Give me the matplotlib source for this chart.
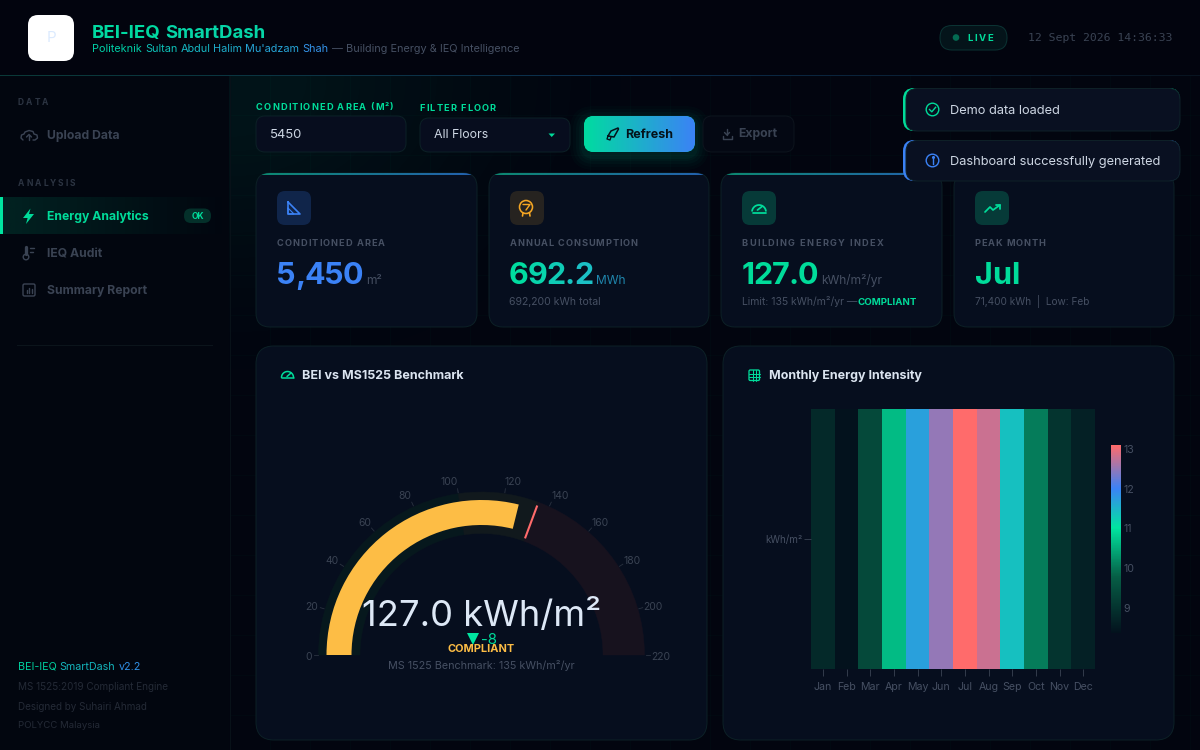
#!/usr/bin/env python
# BEI-IEQ dashboard screen: gauge, monthly heatmap and the KPI cards around them.

import numpy as np
import matplotlib
matplotlib.use("Agg")
import matplotlib.pyplot as plt
from matplotlib import colors as mcolors
from matplotlib.font_manager import FontProperties
from matplotlib.patches import FancyBboxPatch, Wedge, Polygon, Circle, Rectangle

# ---- data
months = ["Jan", "Feb", "Mar", "Apr", "May", "Jun", "Jul", "Aug", "Sep", "Oct", "Nov", "Dec"]
monthly_intensity = [8.8, 8.37, 9.4, 10.64, 11.7, 12.5, 13.1, 12.8, 11.4, 10.06, 9.0, 8.63]
colorbar_ticks = [9, 10, 11, 12, 13]

bei_value = 127.0
bei_benchmark = 135
gauge_max = 220
gauge_ticks = list(range(0, 221, 20))
gauge_steps = [(0, 100, "#06181d"), (100, 135, "#11191d"), (135, 220, "#17121e")]

kpi_labels = ["CONDITIONED AREA", "ANNUAL CONSUMPTION", "BUILDING ENERGY INDEX", "PEAK MONTH"]
kpi_values = ["5,450", "692.2", "127.0", "Jul"]
kpi_units = ["m²", "MWh", "kWh/m²/yr", ""]

# ---- palette
BG = "#02050f"
CARD = "#060e1e"
EDGE = "#0c2026"
GREEN = "#00dc9a"
BLUE = "#3b82f6"
TEAL = "#22b8cf"
AMBER = "#fdbd45"
RED = "#ff6b6b"
MUTED = "#465063"
DIM = "#3a4353"
FAINT = "#242a36"
LIGHT = "#cdd6e3"
FONT = "Inter"

fig = plt.figure(figsize=(12, 7.5), dpi=100, facecolor=BG)
ax = fig.add_axes([0, 0, 1, 1])
ax.set_xlim(0, 1200)
ax.set_ylim(750, 0)
ax.set_autoscale_on(False)
ax.axis("off")
renderer = fig.canvas.get_renderer()


def pt(size):
    return size * 0.72


def label(x, y, s, size, color, weight="normal", ha="left", va="center", family=FONT, z=20):
    if va == "center":
        y = y + 1
    return ax.text(x, y, s, fontsize=pt(size), color=color, fontweight=weight, ha=ha, va=va,
                   family=family, zorder=z)


def text_w(s, size, weight, family=FONT):
    fp = FontProperties(family=family, size=pt(size), weight=weight)
    w = renderer.get_text_width_height_descent(s + ".", fp, False)[0]
    return w - renderer.get_text_width_height_descent(".", fp, False)[0]


def spaced(x, y, s, size, color, track=0.0, weight="normal", color_end=None, z=20):
    # letter spaced or gradient text: per character when tracked, per word otherwise
    c0 = np.array(mcolors.to_rgb(color))
    c1 = np.array(mcolors.to_rgb(color_end or color))
    total = text_w(s, size, weight) + track * len(s)
    if track == 0.0:
        chunks, pos = [], 0
        for word in s.split(" "):
            chunks.append((pos, word))
            pos += len(word) + 1
    else:
        chunks = [(i, ch) for i, ch in enumerate(s)]
    for i, part in chunks:
        cx = x + text_w(s[:i], size, weight) + track * i
        f = (cx - x) / total
        ax.text(cx, y, part, fontsize=pt(size), color=tuple(c0 + (c1 - c0) * f), fontweight=weight,
                ha="left", va="baseline", family=FONT, zorder=z)
    return x + total


def box(x0, y0, x1, y1, r, fc, ec="none", lw=1.0, z=5, alpha=None):
    p = FancyBboxPatch((x0, y0), x1 - x0, y1 - y0, boxstyle=f"round,pad=0,rounding_size={r}",
                       fc=fc, ec=ec, lw=lw * 0.72, zorder=z, alpha=alpha)
    ax.add_patch(p)
    return p


def hgrad(x0, y0, x1, y1, c0, c1, a0=1.0, a1=1.0, clip=None, z=6):
    n = 256
    t = np.linspace(0, 1, n)[None, :, None]
    rgb0 = np.array(mcolors.to_rgb(c0))[None, None, :]
    rgb1 = np.array(mcolors.to_rgb(c1))[None, None, :]
    rgb = rgb0 + (rgb1 - rgb0) * t
    alpha = a0 + (a1 - a0) * t
    im = ax.imshow(np.concatenate([rgb, alpha], axis=2), extent=(x0, x1, y1, y0), aspect="auto",
                   zorder=z, interpolation="bilinear")
    if clip is not None:
        im.set_clip_path(clip)
    return im


def stroke(xs, ys, color, lw=1.3, z=21):
    ax.plot(xs, ys, color=color, lw=lw * 0.72 * 1.1, solid_capstyle="round", solid_joinstyle="round", zorder=z)


def ring(x, y, r, color, lw=1.4, z=21):
    ax.add_patch(Circle((x, y), r, fc="none", ec=color, lw=lw * 0.72, zorder=z))


# ---- page background: a faint glow and grid in the main area
yy, xx = np.mgrid[0:750, 0:1200]
glow = np.exp(-(((xx - 230) / 230.0) ** 2 + ((yy - 80) / 170.0) ** 2))
glow_img = np.zeros((750, 1200, 4))
glow_img[..., :3] = mcolors.to_rgb("#00e5a0")
glow_img[..., 3] = 0.07 * glow
ax.imshow(glow_img, extent=(0, 1200, 750, 0), aspect="auto", zorder=1)
for gx in range(230, 1200, 40):
    ax.plot([gx, gx], [75, 750], color="#00e5a0", alpha=0.02, lw=0.7, zorder=1)
for gy in range(75, 750, 40):
    ax.plot([230, 1200], [gy, gy], color="#00e5a0", alpha=0.02, lw=0.7, zorder=1)

# sidebar and header
ax.add_patch(Rectangle((0, 75), 229, 675, fc="#02060f", ec="none", zorder=2))
ax.plot([229.5, 229.5], [75, 750], color="#081118", lw=0.8, zorder=3)
ax.add_patch(Rectangle((0, 0), 1200, 75, fc="#02040e", ec="none", zorder=2))
hgrad(0, 74.6, 600, 75.6, "#0a3a38", "#0c2f4f", z=3)
hgrad(600, 74.6, 1200, 75.6, "#0c2f4f", "#081420", z=3)

# ---- header
box(28, 15, 74, 61, 10, "#ffffff", z=6)
label(51, 36.5, "P", 15, "#dbeafe", ha="center")
spaced(92, 38, "BEI-IEQ SmartDash", 18.6, "#00d9a0", weight="bold", color_end="#0fcfb0")
xe = spaced(92, 52, "Politeknik Sultan Abdul Halim Mu'adzam Shah", 10.9, "#00cfa6", color_end="#3b8cf0")
label(xe + 3, 52, "— Building Energy & IEQ Intelligence", 10.9, MUTED, va="baseline")
box(940, 25.5, 1007, 50, 12, "#04141a", ec="#0b3333", z=6)
ax.add_patch(Circle((956, 37.5), 3.3, fc="#046b52", ec="none", zorder=7))
spaced(967.4, 41, "LIVE", 9.5, GREEN, track=1.75, weight="bold")
label(1172, 37, "12 Sept 2026 14:36:33", 11.5, DIM, ha="right", family="DejaVu Sans Mono")

# ---- sidebar
spaced(18, 105, "DATA", 8.5, "#2c3442", track=2, weight="bold")
spaced(18, 186, "ANALYSIS", 8.5, "#2c3442", track=2, weight="bold")
label(47, 134.5, "Upload Data", 12.2, DIM, weight="bold")
hgrad(0, 197, 229, 234, "#00e5a0", "#00e5a0", a0=0.13, a1=0.0, z=3)
ax.add_patch(Rectangle((0, 197), 2.5, 37, fc="#00e5a0", ec="none", zorder=4))
label(47, 215.5, "Energy Analytics", 12.2, GREEN, weight="bold")
box(184, 208.5, 211, 223, 7, "#04302a", z=6)
label(197.5, 215.5, "OK", 8.5, GREEN, weight="bold", ha="center")
label(47, 253, "IEQ Audit", 12.2, DIM, weight="bold")
label(47, 290, "Summary Report", 12.2, DIM, weight="bold")
ax.plot([17, 212], [344.5, 344.5], color="#0b141b", lw=0.8, zorder=4)
spaced(18, 670, "BEI-IEQ SmartDash v2.2", 10.7, "#00cf9e", color_end="#3b82f6")
label(18, 686.5, "MS 1525:2019 Compliant Engine", 9.9, FAINT)
label(18, 705.5, "Designed by Suhairi Ahmad", 9.9, FAINT)
label(18, 724.5, "POLYCC Malaysia", 9.6, FAINT)

# sidebar icons
stroke([23, 21, 21.5, 24, 25, 29, 33, 34, 37, 37.5, 35, 33], [140, 138, 135, 134, 132, 130.5, 131.5, 134, 135, 138, 140, 140], DIM)
stroke([29, 29], [140, 134.5], DIM)
stroke([26.5, 29, 31.5], [137, 134.5, 137], DIM)
ax.add_patch(Polygon([(30.5, 208.5), (23, 218), (27.6, 218), (26, 224), (34, 214), (29, 214)], closed=True, fc=GREEN, ec="none", zorder=21))
ring(26, 257, 2.8, DIM)
stroke([26, 26], [254, 247], DIM, lw=3)
stroke([30, 34], [248, 248], DIM)
stroke([30, 33], [252, 252], DIM)
box(23, 284, 35, 296, 1.5, "none", ec=DIM, lw=1.4, z=21)
stroke([26.5, 26.5], [293, 290], DIM)
stroke([29, 29], [293, 287.5], DIM)
stroke([31.5, 31.5], [293, 289], DIM)

# ---- controls
spaced(256, 109.5, "CONDITIONED AREA (M²)", 9.2, GREEN, track=1.15, weight="bold")
spaced(419.6, 111, "FILTER FLOOR", 9.2, GREEN, track=1.1, weight="bold")
box(256, 116, 406, 152, 9, "#070d1e", ec=EDGE, z=6)
label(270, 133.5, "5450", 13, LIGHT)
box(420, 118, 570, 152, 9, "#070d1e", ec=EDGE, z=6)
label(434, 134.5, "All Floors", 12.4, LIGHT)
ax.add_patch(Polygon([(548.5, 133.5), (555, 133.5), (551.7, 137)], closed=True, fc=GREEN, ec="none", zorder=21))

for grow, a in zip([14, 11, 8, 5, 3], [0.02, 0.025, 0.03, 0.035, 0.04]):
    box(584 - grow, 116 - grow + 4, 695 + grow, 152 + grow + 4, 10 + grow, "#00d9a0", z=5, alpha=a)
btn = box(584, 116, 695, 152, 10, "#00d9a0", z=6)
hgrad(584, 116, 695, 152, "#00dca0", "#3b82f6", clip=btn, z=7)
label(625, 133.5, "Refresh", 12.5, "#04121a", weight="bold")
stroke([608, 611, 618, 618.5, 614, 608], [136, 131, 128, 129, 137, 136], "#04121a", lw=1.4)
stroke([608, 607, 610, 611], [136, 139, 140, 137], "#04121a", lw=1.2)
box(703, 116, 794, 152, 9, "#040813", ec="#0d141d", z=6)
label(738, 133, "Export", 12.2, DIM, weight="bold")
stroke([727, 727], [129, 135], DIM)
stroke([724.5, 727, 729.5], [132.5, 135, 132.5], DIM)
stroke([722.5, 722.5, 731.5, 731.5], [136, 138.5, 138.5, 136], DIM)

# ---- KPI cards
card_x = [(256, 477), (489, 709), (721, 942), (954, 1174)]
icon_fc = ["#10254a", "#262320", "#063a38", "#063a38"]
label_track = [1.05, 0.9, 1.35, 0.85]
value_track = [-0.9, -0.9, -0.9, -0.1]
for i, (x0, x1) in enumerate(card_x):
    cp = box(x0, 173, x1, 327, 14, CARD, ec=EDGE, z=6)
    hgrad(x0, 173, x1, 175, "#0c8a70", "#2460b0", clip=cp, z=7)
    box(x0 + 21, 191, x0 + 55, 225, 8, icon_fc[i], z=8)
    spaced(x0 + 20.5, 246, kpi_labels[i], 9.2, MUTED, track=label_track[i], weight="bold")
    if i == 1:
        xe = spaced(x0 + 20, 284, kpi_values[i], 30.5, "#00dca0", track=value_track[i], weight="bold", color_end=TEAL)
    else:
        xe = spaced(x0 + 20.5, 284, kpi_values[i], 30.5, BLUE if i == 0 else GREEN, track=value_track[i], weight="bold")
    if kpi_units[i]:
        label(xe + 4, 284, kpi_units[i], 12, "#1f86ad" if i == 1 else MUTED, va="baseline")

label(509, 305, "692,200 kWh total", 10.5, MUTED, va="baseline")
label(742, 305, "Limit: 135 kWh/m²/yr — ", 10.4, MUTED, va="baseline")
label(858, 305, "COMPLIANT", 9.7, GREEN, weight="bold", va="baseline")
label(975, 305, "71,400 kWh  |  Low: Feb", 10.1, MUTED, va="baseline")

# card icons
stroke([288, 288, 300, 288], [202, 214, 214, 202], BLUE, lw=1.5)
stroke([288, 288, 294, 288], [208, 214, 214, 208], BLUE, lw=1.0)
ring(526, 207, 6.5, "#f5a623", lw=1.6)
stroke([523, 530, 526], [204.5, 204.5, 210], "#f5a623", lw=1.3)
stroke([523, 522.5], [213, 216], "#f5a623", lw=1.5)
stroke([529.5, 530], [213, 216], "#f5a623", lw=1.5)
th = np.linspace(np.pi * 1.05, np.pi * 1.95, 20)
stroke(759 + 7 * np.cos(th), 212 + 7 * np.sin(th), GREEN, lw=1.6)
stroke([752.5, 765.5], [212.5, 212.5], GREEN, lw=1.6)
stroke([757.5, 762], [210, 206.5], GREEN, lw=1.6)
stroke([985, 990, 993, 1000], [212, 207, 210, 205], GREEN, lw=1.6)
stroke([996, 1000, 1000], [205, 205, 209], GREEN, lw=1.6)

# ---- chart cards
box(256, 346, 707, 740, 18, CARD, ec=EDGE, z=6)
box(723, 346, 1174, 740, 18, CARD, ec=EDGE, z=6)
label(302, 375, "BEI vs MS1525 Benchmark", 12.5, "#dbe4f0", weight="bold")
label(769, 374.5, "Monthly Energy Intensity", 12.5, "#dbe4f0", weight="bold")
th = np.linspace(np.pi * 1.0, np.pi * 2.0, 20)
stroke(287.5 + 6 * np.cos(th), 377.5 + 6 * np.sin(th), GREEN, lw=1.4)
stroke([281.5, 293.5], [378, 378], GREEN, lw=1.4)
stroke([287, 291], [376.5, 373], GREEN, lw=1.4)
box(749, 370, 759.5, 380.5, 1.3, "none", ec=GREEN, lw=1.3, z=21)
stroke([749, 759.5], [373.6, 373.6], GREEN, lw=0.9)
stroke([749, 759.5], [377, 377], GREEN, lw=0.9)
stroke([752.5, 752.5], [370, 380.5], GREEN, lw=0.9)
stroke([756, 756], [370, 380.5], GREEN, lw=0.9)

# ---- toasts, above the cards
for y0, y1, col, msg in [(88, 131, GREEN, "Demo data loaded"), (140, 181, BLUE, "Dashboard successfully generated")]:
    box(903, y0, 1180, y1, 11, col, z=30)
    box(906, y0 + 0.5, 1180, y1, 11, "#091021", ec="#0e2027", z=31)
    ax.text(950, (y0 + y1) / 2 + 1, msg, fontsize=pt(12.8), color=LIGHT, ha="left", va="center",
            family=FONT, zorder=32)
    ax.add_patch(Circle((932.5, (y0 + y1) / 2), 6.3, fc="none", ec=col, lw=1.0, zorder=32))
yc = 109.5
ax.plot([929.5, 931.8, 935.6], [yc, yc + 2.3, yc - 2.2], color=GREEN, lw=1.0, zorder=32)
ax.plot([932.5, 932.5], [158.8, 163.8], color=BLUE, lw=1.0, zorder=32)
ax.plot([932.5], [157], marker="o", ms=1.2, color=BLUE, zorder=32)

# ---- gauge, drawn in its own axes with 1 unit = 1 pixel and the origin at the dial centre
cx, cy = 481.5, 655
gx0, gx1, gy0, gy1 = cx - 200, cx + 200, cy + 40, cy - 200
ax_g = fig.add_axes([gx0 / 1200, 1 - gy0 / 750, (gx1 - gx0) / 1200, (gy0 - gy1) / 750], zorder=5)
ax_g.set_xlim(-200, 200)
ax_g.set_ylim(-40, 200)
ax_g.axis("off")


def val_deg(v):
    return 180.0 - 180.0 * v / gauge_max


R_OUT, R_IN = 163.0, 121.5
for v0, v1, col in gauge_steps:
    ax_g.add_patch(Wedge((0, 0), R_OUT, val_deg(v1), val_deg(v0), width=R_OUT - R_IN, fc=col, ec=col, lw=0.3))
ax_g.add_patch(Wedge((0, 0), 155, val_deg(bei_value), val_deg(0), width=25, fc=AMBER, ec="none"))
a = np.radians(val_deg(bei_benchmark))
ax_g.plot([125.5 * np.cos(a), 158.5 * np.cos(a)], [125.5 * np.sin(a), 158.5 * np.sin(a)], color=RED, lw=1.5)
# the tick labels sit a little further out sideways near the top of the dial
tick_nudge = [3, -1, -1, -1.5, -4, -7.5, 6, 5.5, 3, 3, 3, 3]
for t, nudge in zip(gauge_ticks, tick_nudge):
    a = np.radians(val_deg(t))
    ax_g.plot([164 * np.cos(a), 168 * np.cos(a)], [164 * np.sin(a), 168 * np.sin(a)], color="#2a3240", lw=0.6)
    ax_g.text(176 * np.cos(a) + nudge, 176 * np.sin(a) - 1.5, str(t), fontsize=pt(10.4), color=DIM, ha="center", va="center", family=FONT)
ax_g.text(0, 39, f"{bei_value:.1f} kWh/m²", fontsize=pt(36.3), color="#dde8f6", ha="center", va="center", family=FONT)
ax_g.plot([-8.5], [16.5], marker="v", ms=8.5, color="#00e5a0", mew=0)
ax_g.text(0, 15.5, f"{bei_value - bei_benchmark:.0f}", fontsize=pt(15), color=GREEN, ha="left", va="center", family=FONT)
ax_g.text(0, 5.5, "COMPLIANT", fontsize=pt(11), color=AMBER, ha="center", va="center", family=FONT, fontweight="bold")
ax_g.text(0, -10.5, f"MS 1525 Benchmark: {bei_benchmark} kWh/m²/yr", fontsize=pt(10.8), color=MUTED, ha="center", va="center", family=FONT)

# ---- heatmap and its colour bar
cmap = mcolors.LinearSegmentedColormap.from_list(
    "energy", [(0.0, "#03121d"), (0.3, "#065f46"), (0.56, "#00e5a0"), (0.77, BLUE), (1.0, RED)])
vmin, vmax = 8.37, 13.1
hx0, hx1, hy0, hy1 = 811, 1095, 409, 669
ax_h = fig.add_axes([hx0 / 1200, 1 - hy1 / 750, (hx1 - hx0) / 1200, (hy1 - hy0) / 750], zorder=5)
mesh = ax_h.pcolormesh(np.arange(13) - 0.5, [-0.5, 0.5], np.array([monthly_intensity]), cmap=cmap, vmin=vmin, vmax=vmax)
ax_h.set_xticks(range(12), months)
ax_h.set_yticks([0], ["kWh/m²"])
ax_h.tick_params(axis="x", length=5, width=0.6, color="#3a4353", labelcolor=MUTED, labelsize=pt(10.6), pad=4)
ax_h.tick_params(axis="y", length=5, width=0.6, color="#3a4353", labelcolor=MUTED, labelsize=pt(9.8), pad=1)
for tl in ax_h.get_xticklabels() + ax_h.get_yticklabels():
    tl.set_family(FONT)
for sp in ax_h.spines.values():
    sp.set_visible(False)

cax = fig.add_axes([1111 / 1200, 1 - 632.7 / 750, 10 / 1200, 187.7 / 750], zorder=5)
cb = fig.colorbar(mesh, cax=cax, ticks=colorbar_ticks)
cb.outline.set_visible(False)
cb.ax.tick_params(length=0, labelcolor=MUTED, labelsize=pt(10.6), pad=2)
for tl in cb.ax.get_yticklabels():
    tl.set_family(FONT)

fig.savefig("out.png", dpi=100, facecolor=BG)
